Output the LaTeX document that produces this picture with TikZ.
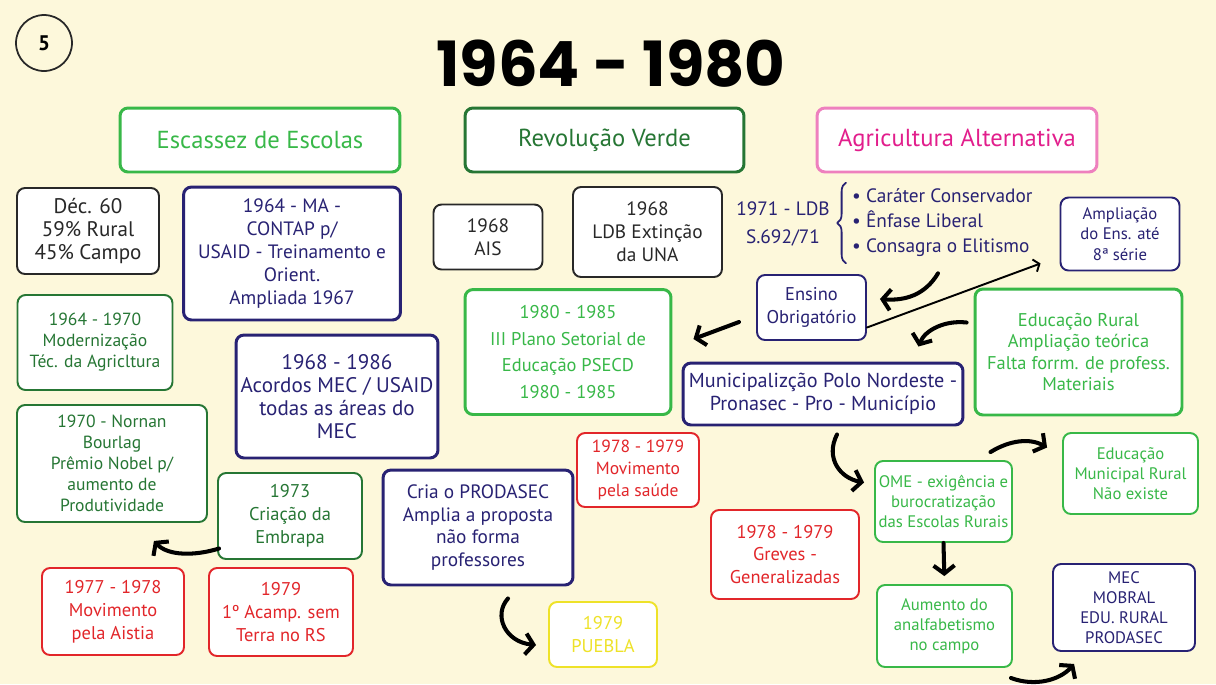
\documentclass[tikz,border=0pt]{standalone}
\usepackage{fontspec}
\setmainfont{PT Sans}
\newfontfamily\titulofonte{Poppins}
\usepackage{tikz}
\usetikzlibrary{shapes,arrows,arrows.meta}
\usetikzlibrary{calc}
\usetikzlibrary{positioning}
\usetikzlibrary{decorations.pathreplacing}

\definecolor{fundo}{RGB}{253,248,219}
\definecolor{cinza}{RGB}{40,40,40}
\definecolor{azul}{RGB}{40,34,115}
\definecolor{verdeesc}{RGB}{38,118,52}
\definecolor{verde}{RGB}{56,184,72}
\definecolor{vermelho}{RGB}{226,38,42}
\definecolor{rosaborda}{RGB}{238,128,190}
\definecolor{magenta}{RGB}{226,30,140}
\definecolor{amarelo}{RGB}{238,226,40}

\tikzstyle{every path}=[line cap=round,line join=round]
\tikzstyle{caixa}=[draw,rounded corners=0.16cm,fill=white,align=center,inner sep=2pt,line width=1.1pt]
\tikzstyle{grossa}=[line width=1.7pt]
\tikzstyle{cabeca}=[caixa,grossa,font=\fontsize{14}{16}\selectfont]
\tikzstyle{preto}=[draw=cinza,text=cinza]
\tikzstyle{marinho}=[draw=azul,text=azul]
\tikzstyle{escuro}=[draw=verdeesc,text=verdeesc]
\tikzstyle{claro}=[draw=verde,text=verde]
\tikzstyle{rubro}=[draw=vermelho,text=vermelho]
\tikzstyle{seta}=[-{Straight Barb[length=1.6mm,width=4.2mm,line width=2.3pt]},line width=2.3pt,black]
\tikzset{tam/.style 2 args={minimum width=#1cm,minimum height=#2cm}}
\newcommand{\fs}[2]{\fontsize{#1}{#2}\selectfont}

\begin{document}
\begin{tikzpicture}[x=0.02cm,y=-0.02cm]
\fill[fundo] (0,0) rectangle (1216,684);
\useasboundingbox (0,0) rectangle (1216,684);

% titulo
\node[circle,draw=cinza,line width=1pt,minimum size=1.12cm,font=\bfseries\fs{12}{14}] (num) at (44,43) {5};
\node[font=\titulofonte\bfseries\fs{35.5}{37}] (titulo) at (611,64) {1964 - 1980};

% cabecalhos
\node[cabeca,claro,tam={5.6}{1.28}] (escassez) at (260,140) {Escassez de Escolas};
\node[cabeca,escuro,tam={5.58}{1.28}] (revol) at (604.5,140) {Revolução Verde};
\node[cabeca,draw=rosaborda,text=magenta,tam={5.6}{1.28}] (agric) at (957,140) {Agricultura Alternativa};

% coluna esquerda
\node[caixa,preto,tam={2.84}{1.72},font=\fs{12}{13}] (dec) at (88,231) {Déc. 60\\59\% Rural\\45\% Campo};
\node[caixa,grossa,marinho,tam={4.34}{2.66},font=\fs{11}{13}] (contap) at (292,253.5) {1964 - MA -\\CONTAP p/\\USAID - Treinamento e\\Orient.\\Ampliada 1967};
\node[caixa,escuro,tam={3.1}{1.9},font=\fs{10}{12}] (moder) at (95,342.5) {1964 - 1970\\Modernização\\Téc. da Agricltura};
\node[caixa,grossa,marinho,tam={4.04}{2.46},font=\fs{12}{13}] (acordos) at (337,396.5) {1968 - 1986\\Acordos MEC / USAID\\todas as áreas do\\MEC};
\node[caixa,escuro,tam={3.8}{2.34},font=\fs{10}{12}] (nobel) at (112,463.5) {1970 - Nornan\\Bourlag\\Prêmio Nobel p/\\aumento de\\Produtividade};
\node[caixa,escuro,tam={2.88}{1.72},font=\fs{10.5}{13}] (embrapa) at (290,516) {1973\\Criação da\\Embrapa};
\node[caixa,rubro,tam={2.84}{1.74},font=\fs{10.5}{13}] (aistia) at (113,611.5) {1977 - 1978\\Movimento\\pela Aistia};
\node[caixa,rubro,tam={2.88}{1.76},font=\fs{10.5}{13}] (acamp) at (281,612) {1979\\1º Acamp. sem\\Terra no RS};

% centro
\node[caixa,preto,tam={2.18}{1.3},font=\fs{11}{13}] (ais) at (488,237) {1968\\AIS};
\node[caixa,preto,tam={2.98}{1.8},font=\fs{11}{13}] (ldb) at (647.5,232) {1968\\LDB Extinção\\da UNA};
\node[caixa,claro,grossa,tam={4.12}{2.5},font=\fs{10.5}{15}] (psecd) at (568,352) {1980 - 1985\\III Plano Setorial de\\Educação PSECD\\1980 - 1985};
\node[caixa,grossa,marinho,tam={3.8}{2.3},font=\fs{11}{13}] (prodasec) at (478,527.5) {Cria o PRODASEC\\Amplia a proposta\\não forma\\professores};
\node[caixa,rubro,tam={2.44}{1.48},font=\fs{10}{12.5}] (saude) at (638,470) {1978 - 1979\\Movimento\\pela saúde};
\node[caixa,rubro,tam={2.96}{1.78},font=\fs{10.5}{13}] (greves) at (785,554.5) {1978 - 1979\\Greves -\\Generalizadas};
\node[caixa,draw=amarelo,text=amarelo,tam={2.16}{1.3},font=\fs{10.5}{13}] (puebla) at (603,634.5) {1979\\PUEBLA};

% direita
\node[text=azul,align=center,font=\fs{11}{16}] (ldb71) at (783,224) {1971 - LDB\\S.692/71};
\node[text=azul,align=left,anchor=west,minimum height=1.6cm,font=\fs{11}{14.2}] (lista) at (846,223) {• Caráter Conservador\\• Ênfase Liberal\\• Consagra o Elitismo};
\draw[azul,line width=1pt,decorate,decoration={brace,amplitude=5pt}] (lista.south west) -- (lista.north west);
\node[caixa,marinho,tam={2.38}{1.46},font=\fs{9.5}{11.5}] (ampl) at (1120,234) {Ampliação\\do Ens. até\\8ª série};
\node[caixa,marinho,tam={2.18}{1.3},font=\fs{10.5}{13}] (ensino) at (811.5,307.5) {Ensino\\Obrigatório};
\node[caixa,claro,grossa,tam={4.14}{2.52},font=\fs{10.5}{12}] (edrural) at (1078.5,352) {Educação Rural\\Ampliação teórica\\Falta forrm. de profess.\\Materiais};
\node[caixa,grossa,marinho,tam={5.6}{1.24},font=\fs{11.5}{13}] (munic) at (823,394) {Municipalizção Polo Nordeste -\\Pronasec - Pro - Município};
\node[caixa,claro,tam={2.74}{1.62},font=\fs{9.5}{11.5}] (ome) at (943.5,501.5) {OME - exigência e\\burocratização\\das Escolas Rurais};
\node[caixa,claro,tam={2.7}{1.62},font=\fs{9.5}{11.5}] (munrural) at (1130.5,473.5) {Educação\\Municipal Rural\\Não existe};
\node[caixa,claro,tam={2.7}{1.64},font=\fs{9.5}{11.5}] (analf) at (944.5,626) {Aumento do\\analfabetismo\\no campo};
\node[caixa,marinho,tam={2.84}{1.74},font=\fs{9.5}{11.5}] (mobral) at (1124,607.5) {MEC\\MOBRAL\\EDU. RURAL\\PRODASEC};

% setas
\draw[seta] ([xshift=1.84cm,yshift=-0.2cm]lista.south west) .. controls (925,295) and (905,301) .. ([xshift=0.26cm,yshift=0.17cm]ensino.east);
\draw[-{Straight Barb[length=1mm,width=2.6mm]},line width=1.1pt] ([yshift=-0.4cm]ensino.east) -- ([xshift=-0.38cm,yshift=0.16cm]ampl.south west);
\draw[seta] ([xshift=-0.34cm,yshift=-0.29cm]ensino.west) -- ([xshift=0.42cm,yshift=0.26cm]psecd.east);
\draw[seta] ([xshift=-0.14cm,yshift=0.59cm]edrural.west) .. controls (945,320) and (925,330) .. ([xshift=-0.92cm,yshift=0.3cm]munic.north east);
\draw[seta] ([xshift=0.28cm,yshift=-0.16cm]munic.south) .. controls (825,458) and (840,478) .. ([xshift=-0.2cm,yshift=0.38cm]ome.west);
\draw[seta] ([xshift=0.94cm,yshift=0.16cm]ome.north) .. controls (1010,440) and (1030,438) .. ([xshift=-0.3cm,yshift=0.52cm]munrural.west);
\draw[seta,shorten >=0.16cm] (ome.south) -- (analf.north);
\draw[seta] ([xshift=-0.04cm,yshift=-0.2cm]analf.south east) .. controls (1035,687) and (1060,680) .. ([xshift=0.44cm,yshift=-0.24cm]mobral.south west);
\draw[seta] ([xshift=0.04cm,yshift=-0.65cm]embrapa.west) .. controls (195,556) and (168,556) .. ([xshift=-1.08cm,yshift=-0.36cm]nobel.south east);
\draw[seta] ([xshift=0.6cm,yshift=-0.24cm]prodasec.south) .. controls (493,615) and (505,642) .. ([xshift=-0.24cm,yshift=-0.21cm]puebla.west);
\end{tikzpicture}
\end{document}
